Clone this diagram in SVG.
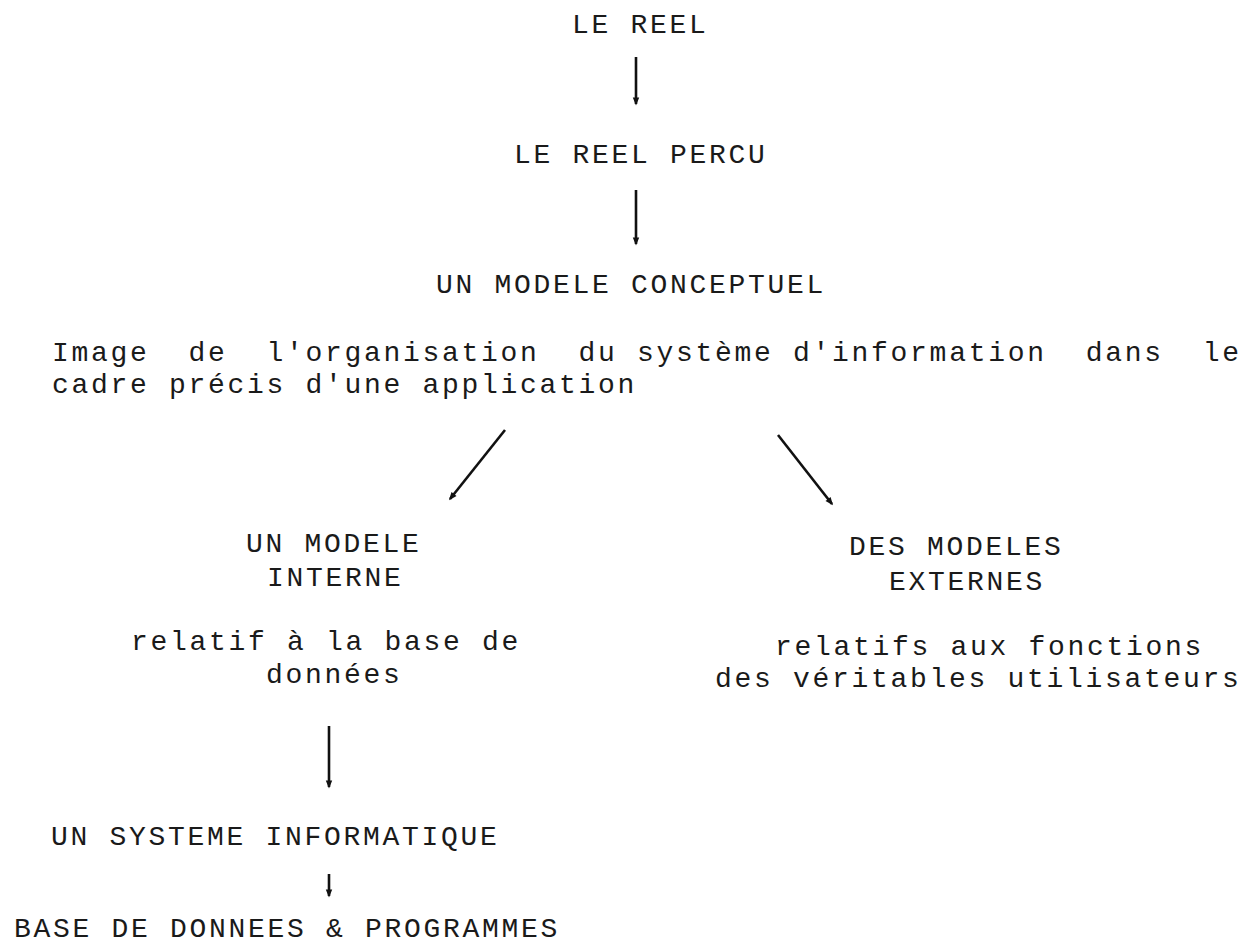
<svg xmlns="http://www.w3.org/2000/svg" width="1254" height="948" viewBox="0 0 1254 948">
  <style>
    .t { font-family: "Liberation Mono", "DejaVu Sans Mono", monospace; font-size: 28px; letter-spacing: 2.7px; fill: #1a1a1a; white-space: pre; }
    .c { stroke: #111; stroke-width: 2.6; fill: none; marker-end: url(#ah); }
  </style>
  <defs>
    <marker id="ah" viewBox="0 0 10 10" refX="8" refY="5" markerWidth="12" markerHeight="8" markerUnits="userSpaceOnUse" orient="auto">
      <path d="M0,1 L10,5 L0,9 z" fill="#111"/>
    </marker>
  </defs>
  <rect width="1254" height="948" fill="#ffffff"/>

  <g id="n-reel"><text class="t" x="572" y="33">LE REEL</text></g>
  <g id="n-reel-percu"><text class="t" x="514" y="163">LE REEL PERCU</text></g>
  <g id="n-modele-conceptuel">
    <text class="t" x="436" y="293">UN MODELE CONCEPTUEL</text>
    <text class="t" x="52" y="361" xml:space="preserve">Image  de  l'organisation  du système d'information  dans  le</text>
    <text class="t" x="52" y="393">cadre précis d'une application</text>
  </g>
  <g id="n-modele-interne">
    <text class="t" x="246" y="552">UN MODELE</text>
    <text class="t" x="267" y="586">INTERNE</text>
    <text class="t" x="131" y="650">relatif à la base de</text>
    <text class="t" x="266" y="683">données</text>
  </g>
  <g id="n-modeles-externes">
    <text class="t" x="849" y="555">DES MODELES</text>
    <text class="t" x="889" y="590">EXTERNES</text>
    <text class="t" x="775" y="655">relatifs aux fonctions</text>
    <text class="t" x="715" y="687">des véritables utilisateurs</text>
  </g>
  <g id="n-systeme"><text class="t" x="51" y="845">UN SYSTEME INFORMATIQUE</text></g>
  <g id="n-base"><text class="t" x="14" y="937">BASE DE DONNEES &amp; PROGRAMMES</text></g>

  <g id="connectors">
    <line class="c" x1="636" y1="57" x2="636" y2="104"/>
    <line class="c" x1="636" y1="190" x2="636" y2="244"/>
    <line class="c" x1="505" y1="430" x2="450" y2="499"/>
    <line class="c" x1="778" y1="435" x2="832" y2="504"/>
    <line class="c" x1="329" y1="726" x2="329" y2="787"/>
    <line class="c" x1="329" y1="874" x2="329" y2="896"/>
  </g>
</svg>
